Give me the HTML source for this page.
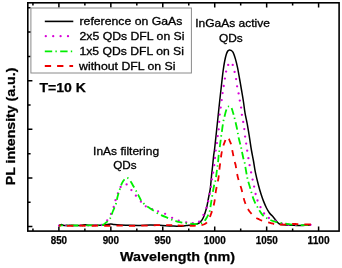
<!DOCTYPE html>
<html><head><meta charset="utf-8"><style>
html,body{margin:0;padding:0;background:#fff;}
svg{display:block;}
text{font-family:"Liberation Sans", sans-serif;fill:#000;}
svg{will-change:transform;}
</style></head><body>
<svg width="342" height="268" viewBox="0 0 342 268">
<rect x="27.80" y="2.80" width="311.30" height="228.30" fill="none" stroke="#000" stroke-width="1.60"/>
<path d="M32.93,231.10 V228.50 M32.93,2.80 V5.40 M58.90,231.10 V226.50 M58.90,2.80 V7.40 M84.87,231.10 V228.50 M84.87,2.80 V5.40 M110.84,231.10 V226.50 M110.84,2.80 V7.40 M136.81,231.10 V228.50 M136.81,2.80 V5.40 M162.78,231.10 V226.50 M162.78,2.80 V7.40 M188.75,231.10 V228.50 M188.75,2.80 V5.40 M214.72,231.10 V226.50 M214.72,2.80 V7.40 M240.69,231.10 V228.50 M240.69,2.80 V5.40 M266.66,231.10 V226.50 M266.66,2.80 V7.40 M292.63,231.10 V228.50 M292.63,2.80 V5.40 M318.60,231.10 V226.50 M318.60,2.80 V7.40 M27.80,226.60 H32.40 M27.80,202.29 H30.60 M27.80,177.98 H32.40 M27.80,153.67 H30.60 M27.80,129.36 H32.40 M27.80,105.05 H30.60 M27.80,80.74 H32.40 M27.80,56.43 H30.60 M27.80,32.12 H32.40 M27.80,7.81 H30.60" stroke="#000" stroke-width="1.5" fill="none"/>
<rect x="30.9" y="8.0" width="160.5" height="65.0" fill="#fff" stroke="#8a8a8a" stroke-width="1"/>
<path d="M44.8,21.4 H73.3" stroke="#000" stroke-width="1.6"/>
<path d="M45.8,36.2 H70" stroke="#d800d8" stroke-width="2.3" stroke-dasharray="0 7.4" stroke-linecap="round"/>
<path d="M44.8,51.3 H73" stroke="#00ee00" stroke-width="1.8" stroke-dasharray="7.4 3.2 1.4 3.4" />
<path d="M44.8,66 H73.1" stroke="#ee0000" stroke-width="1.8" stroke-dasharray="6.3 6" />
<path d="M59.00,225.50 C59.42,225.35 60.67,224.62 61.50,224.60 C62.33,224.58 62.58,225.28 64.00,225.40 C65.42,225.52 67.33,225.28 70.00,225.30 C72.67,225.32 77.50,225.58 80.00,225.50 C82.50,225.42 83.33,224.83 85.00,224.80 C86.67,224.77 87.50,225.23 90.00,225.30 C92.50,225.37 97.50,225.28 100.00,225.20 C102.50,225.12 103.22,224.98 105.00,224.80 C106.78,224.62 109.20,224.15 110.70,224.10 C112.20,224.05 112.45,224.37 114.00,224.50 C115.55,224.63 117.33,224.77 120.00,224.90 C122.67,225.03 126.67,225.22 130.00,225.30 C133.33,225.38 136.67,225.43 140.00,225.40 C143.33,225.37 146.67,225.12 150.00,225.10 C153.33,225.08 156.33,225.15 160.00,225.30 C163.67,225.45 168.43,225.85 172.00,226.00 C175.57,226.15 178.60,226.33 181.40,226.20 C184.20,226.07 186.62,225.47 188.80,225.20 C190.98,224.93 193.05,224.83 194.50,224.60 C195.95,224.37 196.65,224.13 197.50,223.80 C198.35,223.47 198.87,223.20 199.60,222.60 C200.33,222.00 201.20,221.22 201.90,220.20 C202.60,219.18 203.22,217.90 203.80,216.50 C204.38,215.10 204.87,213.55 205.40,211.80 C205.93,210.05 206.48,208.30 207.00,206.00 C207.52,203.70 208.02,200.50 208.50,198.00 C208.98,195.50 209.55,193.00 209.90,191.00 C210.25,189.00 210.33,188.50 210.60,186.00 C210.87,183.50 211.17,179.33 211.50,176.00 C211.83,172.67 212.25,169.33 212.60,166.00 C212.95,162.67 213.25,159.00 213.60,156.00 C213.95,153.00 214.27,151.67 214.70,148.00 C215.13,144.33 215.70,138.67 216.20,134.00 C216.70,129.33 217.10,125.67 217.70,120.00 C218.30,114.33 219.13,106.17 219.80,100.00 C220.47,93.83 221.15,87.83 221.70,83.00 C222.25,78.17 222.60,74.67 223.10,71.00 C223.60,67.33 224.15,63.83 224.70,61.00 C225.25,58.17 225.85,55.70 226.40,54.00 C226.95,52.30 227.50,51.48 228.00,50.80 C228.50,50.12 228.90,49.97 229.40,49.90 C229.90,49.83 230.38,49.98 231.00,50.40 C231.62,50.82 232.37,50.98 233.10,52.40 C233.83,53.82 234.65,56.32 235.40,58.90 C236.15,61.48 236.90,64.55 237.60,67.90 C238.30,71.25 238.95,75.32 239.60,79.00 C240.25,82.68 240.85,86.17 241.50,90.00 C242.15,93.83 242.92,98.20 243.50,102.00 C244.08,105.80 244.35,108.98 245.00,112.80 C245.65,116.62 246.65,120.77 247.40,124.90 C248.15,129.03 248.83,133.42 249.50,137.60 C250.17,141.78 250.73,146.10 251.40,150.00 C252.07,153.90 252.83,157.27 253.50,161.00 C254.17,164.73 254.58,168.40 255.40,172.40 C256.22,176.40 257.47,181.40 258.40,185.00 C259.33,188.60 260.13,191.27 261.00,194.00 C261.87,196.73 262.68,199.07 263.60,201.40 C264.52,203.73 265.55,206.10 266.50,208.00 C267.45,209.90 268.40,211.53 269.30,212.80 C270.20,214.07 271.02,214.60 271.90,215.60 C272.78,216.60 273.75,217.77 274.60,218.80 C275.45,219.83 276.17,220.93 277.00,221.80 C277.83,222.67 278.43,223.50 279.60,224.00 C280.77,224.50 282.53,224.62 284.00,224.80 C285.47,224.98 286.73,225.02 288.40,225.10 C290.07,225.18 292.05,225.22 294.00,225.30 C295.95,225.38 298.27,225.62 300.10,225.60 C301.93,225.58 303.18,225.32 305.00,225.20 C306.82,225.08 310.00,224.95 311.00,224.90" stroke="#000" stroke-width="1.5" fill="none"/>
<path d="M59.00,225.50 C60.17,225.47 63.67,225.30 66.00,225.30 C68.33,225.30 70.67,225.50 73.00,225.50 C75.33,225.50 77.67,225.30 80.00,225.30 C82.33,225.30 84.67,225.50 87.00,225.50 C89.33,225.50 91.53,225.38 94.00,225.30 C96.47,225.22 100.50,225.05 101.80,225.00 M288.60,224.60 C289.67,224.63 292.60,224.73 295.00,224.80 C297.40,224.87 300.33,225.00 303.00,225.00 C305.67,225.00 309.67,224.83 311.00,224.80" stroke="#d800d8" stroke-width="2.2" fill="none" stroke-dasharray="0 7.3" stroke-linecap="round"/>
<g fill="#d800d8"><circle cx="101.8" cy="225.0" r="1.15"/><circle cx="107.2" cy="220.5" r="1.15"/><circle cx="111.0" cy="213.9" r="1.15"/><circle cx="113.7" cy="207.0" r="1.15"/><circle cx="115.5" cy="200.2" r="1.15"/><circle cx="117.9" cy="193.3" r="1.15"/><circle cx="120.6" cy="187.0" r="1.15"/><circle cx="126.6" cy="184.4" r="1.15"/><circle cx="131.4" cy="190.1" r="1.15"/><circle cx="135.9" cy="195.7" r="1.15"/><circle cx="140.9" cy="201.7" r="1.15"/><circle cx="145.8" cy="206.3" r="1.15"/><circle cx="152.1" cy="209.2" r="1.15"/><circle cx="158.1" cy="211.3" r="1.15"/><circle cx="165.1" cy="213.8" r="1.15"/><circle cx="172.1" cy="217.8" r="1.15"/><circle cx="178.7" cy="220.7" r="1.15"/><circle cx="186.2" cy="222.3" r="1.15"/><circle cx="192.8" cy="223.2" r="1.15"/><circle cx="199.1" cy="221.7" r="1.15"/><circle cx="203.5" cy="215.0" r="1.15"/><circle cx="206.5" cy="207.7" r="1.15"/><circle cx="208.2" cy="201.2" r="1.15"/><circle cx="209.7" cy="193.9" r="1.15"/><circle cx="210.9" cy="186.8" r="1.15"/><circle cx="211.9" cy="179.4" r="1.15"/><circle cx="213.1" cy="172.7" r="1.15"/><circle cx="214.2" cy="165.2" r="1.15"/><circle cx="214.9" cy="158.0" r="1.15"/><circle cx="215.7" cy="150.6" r="1.15"/><circle cx="216.9" cy="143.1" r="1.15"/><circle cx="217.7" cy="136.1" r="1.15"/><circle cx="218.7" cy="129.3" r="1.15"/><circle cx="219.2" cy="121.8" r="1.15"/><circle cx="219.7" cy="114.6" r="1.15"/><circle cx="220.7" cy="107.6" r="1.15"/><circle cx="221.7" cy="100.1" r="1.15"/><circle cx="222.6" cy="93.1" r="1.15"/><circle cx="223.7" cy="86.0" r="1.15"/><circle cx="224.9" cy="78.6" r="1.15"/><circle cx="226.1" cy="71.6" r="1.15"/><circle cx="228.2" cy="64.9" r="1.15"/><circle cx="232.7" cy="64.9" r="1.15"/><circle cx="234.6" cy="71.9" r="1.15"/><circle cx="236.1" cy="79.1" r="1.15"/><circle cx="237.1" cy="86.3" r="1.15"/><circle cx="238.6" cy="93.4" r="1.15"/><circle cx="239.8" cy="100.6" r="1.15"/><circle cx="241.1" cy="107.6" r="1.15"/><circle cx="241.9" cy="114.8" r="1.15"/><circle cx="243.2" cy="121.9" r="1.15"/><circle cx="244.3" cy="129.1" r="1.15"/><circle cx="245.1" cy="136.6" r="1.15"/><circle cx="246.2" cy="143.6" r="1.15"/><circle cx="247.2" cy="150.7" r="1.15"/><circle cx="248.4" cy="158.2" r="1.15"/><circle cx="249.6" cy="165.2" r="1.15"/><circle cx="251.1" cy="172.4" r="1.15"/><circle cx="252.6" cy="179.6" r="1.15"/><circle cx="254.1" cy="186.6" r="1.15"/><circle cx="255.6" cy="194.0" r="1.15"/><circle cx="257.5" cy="200.5" r="1.15"/><circle cx="260.5" cy="207.2" r="1.15"/><circle cx="264.1" cy="213.5" r="1.15"/><circle cx="268.9" cy="218.0" r="1.15"/><circle cx="275.5" cy="221.0" r="1.15"/><circle cx="282.0" cy="223.7" r="1.15"/><circle cx="288.6" cy="224.6" r="1.15"/></g>
<path d="M59.00,225.50 C60.83,225.48 66.50,225.40 70.00,225.40 C73.50,225.40 76.67,225.50 80.00,225.50 C83.33,225.50 86.67,225.42 90.00,225.40 C93.33,225.38 97.73,225.55 100.00,225.40 C102.27,225.25 102.50,225.03 103.60,224.50 C104.70,223.97 105.48,223.27 106.60,222.20 C107.72,221.13 109.23,219.97 110.30,218.10 C111.37,216.23 112.05,213.38 113.00,211.00 C113.95,208.62 115.23,206.22 116.00,203.80 C116.77,201.38 116.97,198.92 117.60,196.50 C118.23,194.08 119.07,191.52 119.80,189.30 C120.53,187.08 121.20,184.87 122.00,183.20 C122.80,181.53 123.70,180.18 124.60,179.30 C125.50,178.42 126.42,177.58 127.40,177.90 C128.38,178.22 129.52,179.85 130.50,181.20 C131.48,182.55 132.37,184.38 133.30,186.00 C134.23,187.62 135.22,189.30 136.10,190.90 C136.98,192.50 137.82,194.10 138.60,195.60 C139.38,197.10 139.95,198.58 140.80,199.90 C141.65,201.22 142.65,202.43 143.70,203.50 C144.75,204.57 146.00,205.47 147.10,206.30 C148.20,207.13 149.25,207.78 150.30,208.50 C151.35,209.22 152.23,209.83 153.40,210.60 C154.57,211.37 155.92,212.30 157.30,213.10 C158.68,213.90 160.00,214.62 161.70,215.40 C163.40,216.18 165.85,217.10 167.50,217.80 C169.15,218.50 170.30,219.08 171.60,219.60 C172.90,220.12 173.90,220.47 175.30,220.90 C176.70,221.33 178.22,221.82 180.00,222.20 C181.78,222.58 184.17,222.97 186.00,223.20 C187.83,223.43 189.33,223.43 191.00,223.60 C192.67,223.77 194.67,224.15 196.00,224.20 C197.33,224.25 198.10,224.07 199.00,223.90 C199.90,223.73 200.52,223.65 201.40,223.20 C202.28,222.75 203.45,222.07 204.30,221.20 C205.15,220.33 205.85,219.07 206.50,218.00 C207.15,216.93 207.67,215.93 208.20,214.80 C208.73,213.67 209.25,213.00 209.70,211.20 C210.15,209.40 210.48,206.52 210.90,204.00 C211.32,201.48 211.77,198.68 212.20,196.10 C212.63,193.52 213.13,190.52 213.50,188.50 C213.87,186.48 214.10,185.22 214.40,184.00 C214.70,182.78 215.02,182.42 215.30,181.20 C215.58,179.98 215.83,178.48 216.10,176.70 C216.37,174.92 216.67,172.23 216.90,170.50 C217.13,168.77 217.30,167.75 217.50,166.30 C217.70,164.85 217.92,163.52 218.10,161.80 C218.28,160.08 218.42,157.73 218.60,156.00 C218.78,154.27 218.98,153.07 219.20,151.40 C219.42,149.73 219.65,147.87 219.90,146.00 C220.15,144.13 220.48,141.85 220.70,140.20 C220.92,138.55 221.00,137.55 221.20,136.10 C221.40,134.65 221.65,133.27 221.90,131.50 C222.15,129.73 222.43,127.30 222.70,125.50 C222.97,123.70 223.18,122.25 223.50,120.70 C223.82,119.15 224.17,117.88 224.60,116.20 C225.03,114.52 225.63,112.07 226.10,110.60 C226.57,109.13 226.92,108.12 227.40,107.40 C227.88,106.68 228.50,106.38 229.00,106.30 C229.50,106.22 229.97,106.58 230.40,106.90 C230.83,107.22 231.12,107.10 231.60,108.20 C232.08,109.30 232.82,111.88 233.30,113.50 C233.78,115.12 234.12,116.40 234.50,117.90 C234.88,119.40 235.17,120.63 235.60,122.50 C236.03,124.37 236.73,127.32 237.10,129.10 C237.47,130.88 237.55,131.80 237.80,133.20 C238.05,134.60 238.22,135.78 238.60,137.50 C238.98,139.22 239.67,141.80 240.10,143.50 C240.53,145.20 240.87,146.22 241.20,147.70 C241.53,149.18 241.73,150.60 242.10,152.40 C242.47,154.20 242.98,156.80 243.40,158.50 C243.82,160.20 244.27,161.15 244.60,162.60 C244.93,164.05 245.08,165.38 245.40,167.20 C245.72,169.02 246.18,171.75 246.50,173.50 C246.82,175.25 246.98,176.28 247.30,177.70 C247.62,179.12 247.93,180.33 248.40,182.00 C248.87,183.67 249.62,186.02 250.10,187.70 C250.58,189.38 250.90,190.68 251.30,192.10 C251.70,193.52 251.90,194.48 252.50,196.20 C253.10,197.92 254.12,200.67 254.90,202.40 C255.68,204.13 256.48,205.30 257.20,206.60 C257.92,207.90 258.45,208.98 259.20,210.20 C259.95,211.42 260.90,212.88 261.70,213.90 C262.50,214.92 263.20,215.62 264.00,216.30 C264.80,216.98 265.38,217.33 266.50,218.00 C267.62,218.67 269.40,219.72 270.70,220.30 C272.00,220.88 272.92,221.12 274.30,221.50 C275.68,221.88 277.05,222.23 279.00,222.60 C280.95,222.97 283.47,223.35 286.00,223.70 C288.53,224.05 291.27,224.45 294.20,224.70 C297.13,224.95 300.80,225.18 303.60,225.20 C306.40,225.22 309.77,224.87 311.00,224.80" stroke="#00ee00" stroke-width="1.8" fill="none" stroke-dasharray="3.90 3.30 1.40 3.30 7.40 3.30 1.40 3.30 7.40 3.30 1.40 3.30 7.40 3.30 1.40 3.30 7.40 3.30 1.38 3.22 7.21 3.22 1.36 3.19 7.16 3.19 1.38 3.30 7.39 3.30 1.37 3.17 7.11 3.17 1.43 3.57 8.01 3.57 1.47 3.37 7.55 3.37 1.39 3.19 7.15 3.19 1.39 3.34 7.49 3.34 1.39 3.21 7.19 3.21 1.38 3.28 7.36 3.28 1.39 3.27 7.33 3.27 1.38 3.23 7.24 3.23 1.37 3.21 7.21 3.21 1.38 3.31 7.41 3.31 1.41 3.34 7.48 3.34 1.39 3.22 7.22 3.22 1.34 3.08 6.91 3.08 1.37 3.36 7.52 3.36 1.39 3.19 7.16 3.19 1.37 3.28 7.35 3.28 1.39 3.29 7.37 3.29 1.38 3.20 7.18 3.20 1.39 3.37 7.55 3.37 1.39 3.20 7.18 3.20 1.38 3.30 7.40 3.30 1.40 3.30 7.40 3.30 1.40 3.30 7.40 3.30 5.10 50.00"/>
<path d="M59.00,225.70 C60.83,225.72 66.50,225.82 70.00,225.80 C73.50,225.78 76.67,225.58 80.00,225.60 C83.33,225.62 86.67,225.90 90.00,225.90 C93.33,225.90 96.67,225.60 100.00,225.60 C103.33,225.60 106.67,225.90 110.00,225.90 C113.33,225.90 116.67,225.62 120.00,225.60 C123.33,225.58 126.67,225.78 130.00,225.80 C133.33,225.82 136.67,225.73 140.00,225.70 C143.33,225.67 147.20,225.70 150.00,225.60 C152.80,225.50 154.63,225.17 156.80,225.10 C158.97,225.03 160.92,225.20 163.00,225.20 C165.08,225.20 167.30,225.07 169.30,225.10 C171.30,225.13 173.12,225.32 175.00,225.40 C176.88,225.48 178.68,225.53 180.60,225.60 C182.52,225.67 184.50,225.75 186.50,225.80 C188.50,225.85 190.85,225.93 192.60,225.90 C194.35,225.87 195.60,225.70 197.00,225.60 C198.40,225.50 199.78,225.52 201.00,225.30 C202.22,225.08 203.35,224.75 204.30,224.30 C205.25,223.85 205.92,223.48 206.70,222.60 C207.48,221.72 208.28,220.43 209.00,219.00 C209.72,217.57 210.37,215.75 211.00,214.00 C211.63,212.25 212.25,210.42 212.80,208.50 C213.35,206.58 213.90,204.50 214.30,202.50 C214.70,200.50 214.91,198.58 215.20,196.50 C215.49,194.42 215.70,192.08 216.05,190.00 C216.40,187.92 216.91,185.92 217.30,184.00 C217.69,182.08 218.10,180.42 218.40,178.50 C218.70,176.58 218.88,174.48 219.10,172.50 C219.32,170.52 219.50,168.60 219.75,166.60 C220.00,164.60 220.33,162.52 220.60,160.50 C220.87,158.48 221.07,156.33 221.35,154.50 C221.63,152.67 221.96,151.02 222.30,149.50 C222.64,147.98 223.05,146.52 223.40,145.40 C223.75,144.28 224.07,143.68 224.40,142.80 C224.73,141.92 224.97,141.03 225.40,140.10 C225.83,139.17 226.43,137.43 227.00,137.20 C227.57,136.97 228.32,138.00 228.80,138.70 C229.28,139.40 229.53,140.50 229.90,141.40 C230.27,142.30 230.63,142.75 231.00,144.10 C231.37,145.45 231.80,148.03 232.10,149.50 C232.40,150.97 232.52,151.48 232.80,152.90 C233.08,154.32 233.47,156.43 233.80,158.00 C234.13,159.57 234.50,161.15 234.80,162.30 C235.10,163.45 235.30,163.45 235.60,164.90 C235.90,166.35 236.24,169.00 236.60,171.00 C236.96,173.00 237.27,174.90 237.75,176.90 C238.23,178.90 238.89,181.02 239.50,183.00 C240.11,184.98 240.83,186.83 241.40,188.80 C241.97,190.77 242.38,192.77 242.90,194.80 C243.42,196.83 243.88,199.08 244.50,201.00 C245.12,202.92 245.78,204.60 246.60,206.30 C247.42,208.00 248.38,209.75 249.40,211.20 C250.42,212.65 251.62,213.93 252.70,215.00 C253.78,216.07 254.85,216.88 255.90,217.60 C256.95,218.32 258.00,218.78 259.00,219.30 C260.00,219.82 260.85,220.28 261.90,220.70 C262.95,221.12 264.23,221.53 265.30,221.80 C266.37,222.07 267.33,222.08 268.30,222.30 C269.27,222.52 270.15,222.82 271.10,223.10 C272.05,223.38 272.93,223.77 274.00,224.00 C275.07,224.23 276.05,224.38 277.50,224.50 C278.95,224.62 280.95,224.77 282.70,224.70 C284.45,224.63 286.45,224.25 288.00,224.10 C289.55,223.95 290.50,223.80 292.00,223.80 C293.50,223.80 295.17,223.98 297.00,224.10 C298.83,224.22 300.67,224.45 303.00,224.50 C305.33,224.55 309.67,224.42 311.00,224.40" stroke="#ee0000" stroke-width="1.8" fill="none" stroke-dasharray="1.80 6.10 6.30 6.10 6.30 6.10 6.30 6.10 6.30 6.10 6.30 6.10 6.30 6.10 6.30 6.10 6.33 6.15 6.05 5.56 5.92 5.91 6.07 5.85 6.23 6.22 6.25 5.89 6.25 6.21 6.19 5.77 6.02 5.89 6.14 6.00 6.18 5.96 6.03 5.72 5.98 5.86 6.16 6.07 6.23 6.00 6.26 6.13 6.36 6.19 6.08 5.59 6.11 6.25 6.47 6.27 6.23 5.80 6.14 6.10 6.30 6.10 6.30 5.42"/>
<text x="79.50" y="25.00" font-size="10.60" font-weight="normal" textLength="102.80" lengthAdjust="spacingAndGlyphs" text-anchor="start" stroke="#000" stroke-width="0.30">reference on GaAs</text>
<text x="79.50" y="39.70" font-size="10.60" font-weight="normal" textLength="105.00" lengthAdjust="spacingAndGlyphs" text-anchor="start" stroke="#000" stroke-width="0.30">2x5 QDs DFL on Si</text>
<text x="79.50" y="54.90" font-size="10.60" font-weight="normal" textLength="104.40" lengthAdjust="spacingAndGlyphs" text-anchor="start" stroke="#000" stroke-width="0.30">1x5 QDs DFL on Si</text>
<text x="79.10" y="69.90" font-size="10.60" font-weight="normal" textLength="96.40" lengthAdjust="spacingAndGlyphs" text-anchor="start" stroke="#000" stroke-width="0.30">without DFL on Si</text>
<text x="39.50" y="92.00" font-size="13.60" font-weight="bold" textLength="46.50" lengthAdjust="spacingAndGlyphs" text-anchor="start" stroke="#000" stroke-width="0.25">T=10 K</text>
<text x="195.20" y="27.30" font-size="10.90" font-weight="normal" textLength="74.80" lengthAdjust="spacingAndGlyphs" text-anchor="start" stroke="#000" stroke-width="0.30">InGaAs active</text>
<text x="219.00" y="41.60" font-size="11.30" font-weight="normal" textLength="23.80" lengthAdjust="spacingAndGlyphs" text-anchor="start" stroke="#000" stroke-width="0.30">QDs</text>
<text x="93.10" y="154.50" font-size="11.20" font-weight="normal" textLength="66.00" lengthAdjust="spacingAndGlyphs" text-anchor="start" stroke="#000" stroke-width="0.30">InAs filtering</text>
<text x="113.20" y="169.30" font-size="11.50" font-weight="normal" textLength="23.40" lengthAdjust="spacingAndGlyphs" text-anchor="start" stroke="#000" stroke-width="0.30">QDs</text>
<text x="58.90" y="243.70" font-size="10.10" font-weight="bold" textLength="16.40" lengthAdjust="spacingAndGlyphs" text-anchor="middle" stroke="#000" stroke-width="0.25">850</text>
<text x="110.84" y="243.70" font-size="10.10" font-weight="bold" textLength="16.40" lengthAdjust="spacingAndGlyphs" text-anchor="middle" stroke="#000" stroke-width="0.25">900</text>
<text x="162.78" y="243.70" font-size="10.10" font-weight="bold" textLength="16.40" lengthAdjust="spacingAndGlyphs" text-anchor="middle" stroke="#000" stroke-width="0.25">950</text>
<text x="214.72" y="243.70" font-size="10.10" font-weight="bold" textLength="22.00" lengthAdjust="spacingAndGlyphs" text-anchor="middle" stroke="#000" stroke-width="0.25">1000</text>
<text x="266.66" y="243.70" font-size="10.10" font-weight="bold" textLength="22.00" lengthAdjust="spacingAndGlyphs" text-anchor="middle" stroke="#000" stroke-width="0.25">1050</text>
<text x="318.60" y="243.70" font-size="10.10" font-weight="bold" textLength="22.00" lengthAdjust="spacingAndGlyphs" text-anchor="middle" stroke="#000" stroke-width="0.25">1100</text>
<text x="120.00" y="260.90" font-size="12.90" font-weight="bold" textLength="115.00" lengthAdjust="spacingAndGlyphs" text-anchor="start" stroke="#000" stroke-width="0.25">Wavelength (nm)</text>
<text transform="translate(14.9,185.2) rotate(-90)" font-size="12.5" font-weight="bold" textLength="117.6" lengthAdjust="spacingAndGlyphs" stroke="#000" stroke-width="0.25">PL intensity (a.u.)</text>
</svg>
</body></html>
